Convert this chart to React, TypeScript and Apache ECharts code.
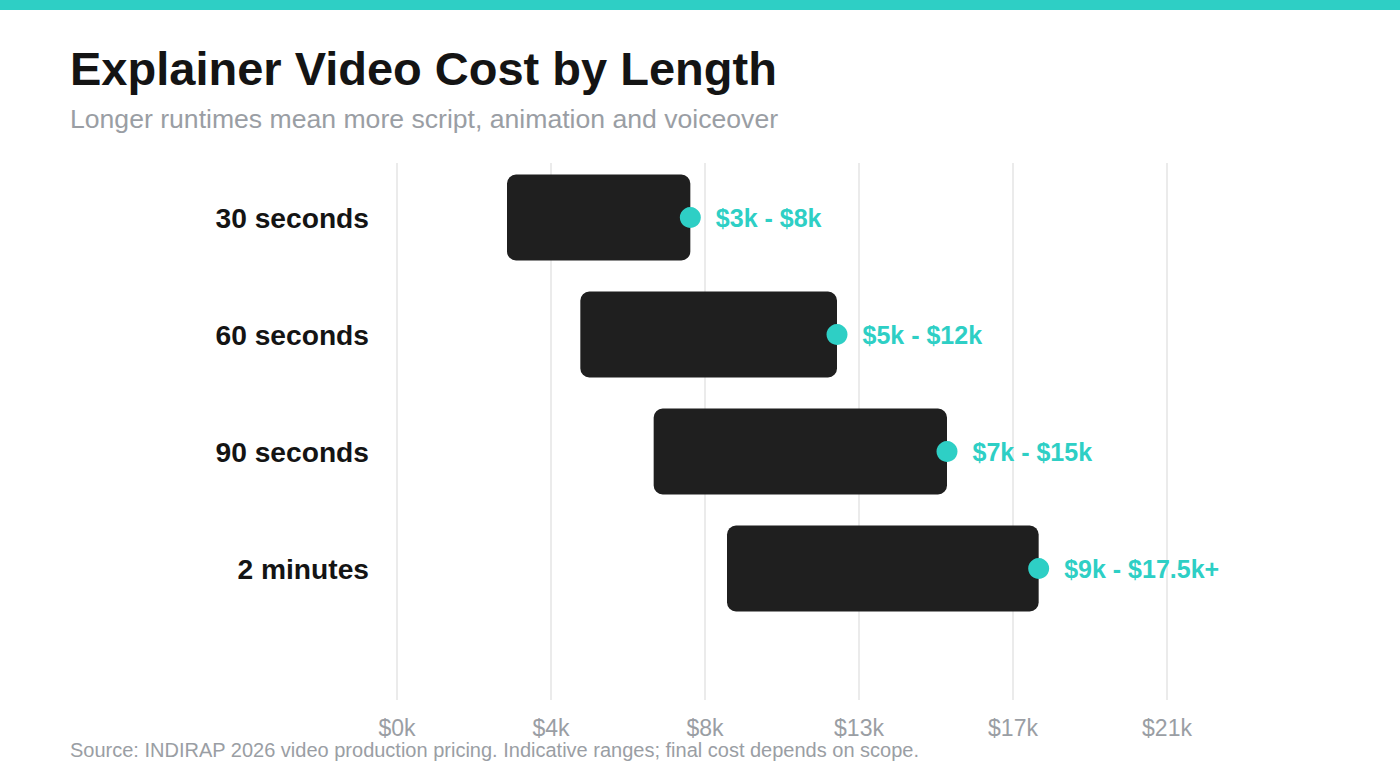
import React, { useEffect, useRef } from "react";
import * as echarts from "echarts";

const categories = ["30 seconds", "60 seconds", "90 seconds", "2 minutes"];
const lowValues = [3000, 5000, 7000, 9000];
const highValues = [8000, 12000, 15000, 17500];
const rangeLabels = ["$3k - $8k", "$5k - $12k", "$7k - $15k", "$9k - $17.5k+"];

const TEAL = "#2ECFC5";
const FONT = "Liberation Sans";

export default function App() {
  const ref = useRef<HTMLDivElement>(null);
  useEffect(() => {
    if (!ref.current) return;
    const chart = echarts.init(ref.current, undefined, { renderer: "svg" });
    const spans = highValues.map((h, i) => h - lowValues[i]);
    chart.setOption({
      animation: false,
      backgroundColor: "#ffffff",
      textStyle: { fontFamily: FONT },
      graphic: [
        { type: "rect", left: 0, top: 0, shape: { width: 1400, height: 10 }, style: { fill: TEAL } },
        {
          type: "text", x: 70, y: 68,
          style: { text: "Explainer Video Cost by Length", fontSize: 47, fontWeight: "bold", fill: "#141414", fontFamily: FONT, verticalAlign: "middle" },
        },
        {
          type: "text", x: 70, y: 119,
          style: { text: "Longer runtimes mean more script, animation and voiceover", fontSize: 26.6, fill: "#9a9ea4", fontFamily: FONT, verticalAlign: "middle" },
        },
        {
          type: "text", x: 70, y: 750,
          style: { text: "Source: INDIRAP 2026 video production pricing. Indicative ranges; final cost depends on scope.", fontSize: 20, fill: "#9a9ea4", fontFamily: FONT, verticalAlign: "middle" },
        },
      ],
      grid: [
        { left: 397, right: 233, top: 163, bottom: 82 },
        { left: 397, right: 233, top: 159, height: 468 },
      ],
      xAxis: [
        {
          gridIndex: 0, type: "value", min: 0, max: 21000, interval: 4200,
          axisLine: { show: false }, axisTick: { show: false },
          splitLine: { show: true, lineStyle: { color: "#ebebeb", width: 2 } },
          axisLabel: {
            margin: 16, fontSize: 23, color: "#9a9ea4", fontFamily: FONT,
            formatter: (v: number) => "$" + Math.round(v / 1000) + "k",
          },
        },
        { gridIndex: 1, type: "value", min: 0, max: 21000, show: false },
      ],
      yAxis: [
        { gridIndex: 0, type: "value", show: false },
        {
          gridIndex: 1, type: "category", inverse: true, data: categories,
          axisLine: { show: false }, axisTick: { show: false }, splitLine: { show: false },
          axisLabel: { margin: 28, fontSize: 28.2, fontWeight: "bold", color: "#141414", fontFamily: FONT },
        },
      ],
      series: [
        {
          type: "bar", xAxisIndex: 1, yAxisIndex: 1, stack: "r", data: lowValues,
          itemStyle: { color: "transparent" }, barWidth: 86, silent: true,
        },
        {
          type: "bar", xAxisIndex: 1, yAxisIndex: 1, stack: "r", data: spans,
          itemStyle: { color: "#1f1f1f", borderRadius: 9 }, barWidth: 86,
        },
        {
          type: "scatter", xAxisIndex: 1, yAxisIndex: 1,
          data: highValues.map((h, i) => [h, i]),
          symbolSize: 21, itemStyle: { color: TEAL, opacity: 1 }, z: 5,
          label: {
            show: true, position: "right", distance: 15,
            formatter: (p: any) => rangeLabels[p.dataIndex],
            fontSize: 25, fontWeight: "bold", color: TEAL, fontFamily: FONT,
          },
        },
      ],
    });
    return () => chart.dispose();
  }, []);
  return <div ref={ref} style={{ position: "fixed", left: 0, top: 0, width: 1400, height: 782 }} />;
}
